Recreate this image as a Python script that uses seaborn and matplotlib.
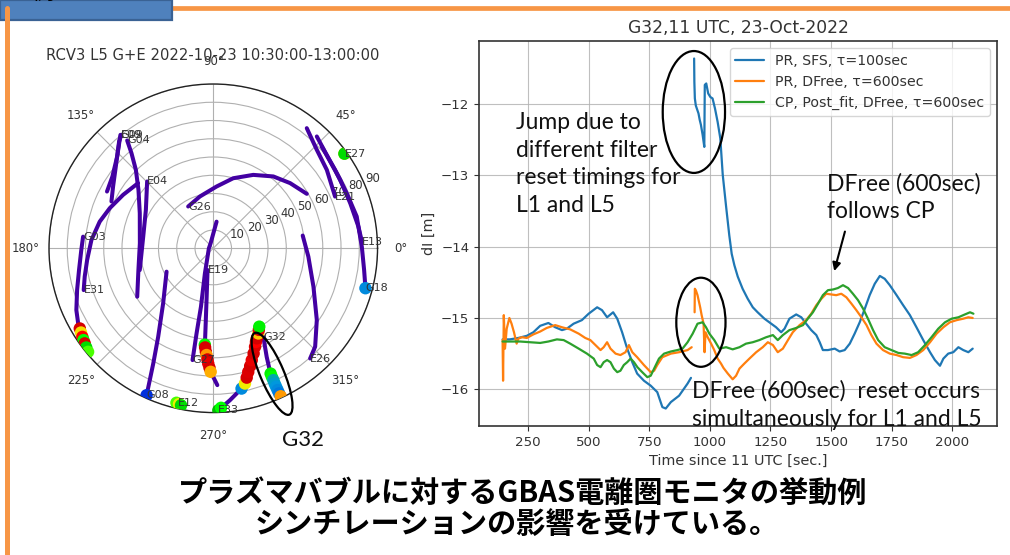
import numpy as np
import pandas as pd
import matplotlib
matplotlib.use("Agg")
import matplotlib.pyplot as plt
import seaborn as sns
from matplotlib.patches import Ellipse, Rectangle
from matplotlib.lines import Line2D

# ---------------- sky plot data (azimuth deg, zenith deg) ----------------
g03_az = [174.9, 180.7, 189.2, 197.0, 204.3, 209.1, 211.0, 214.1, 216.5, 219.6]
g03_zen = [71.6, 72.3, 74.5, 78.0, 82.3, 84.7, 85.3, 86.6, 87.6, 89.0]
e31_az = [197.9, 192.4, 185.3, 176.1, 166.8, 158.8, 149.3, 139.1]
e31_zen = [74.6, 72.1, 69.4, 66.9, 63.9, 60.8, 57.4, 54.5]
g09_az = [129.3, 136.3, 144.6, 151.9]
g09_zen = [80.3, 72.8, 67.8, 66.0]
e09_az = [129.0, 131.4, 140.0, 148.3, 155.3]
e09_zen = [80.0, 78.0, 69.7, 64.5, 61.4]
g04_az = [128.6, 130.7, 134.6, 142.0, 154.5, 176.1, 196.2, 212.5]
g04_zen = [75.6, 68.7, 60.4, 52.0, 44.6, 40.3, 42.7, 49.4]
e04_az = [134.7, 150.3, 170.5, 196.5]
e04_zen = [51.5, 42.5, 38.9, 42.0]
g08_az = [245.6, 242.5, 238.1, 227.7, 206.6]
g08_zen = [88.4, 71.2, 57.1, 40.8, 28.6]
e12_az = [257.0, 258.2]
e12_zen = [87.0, 87.6]
g27_az = [259.5, 258.9, 258.1, 251.6, 180.0, 118.0, 82.9]
g27_zen = [62.3, 47.5, 32.7, 14.5, 2.4, 3.1, 14.7]
e19_az = [255.3, 262.6, 264.4, 265.0, 265.2, 266.4, 267.5, 268.8, 271.7]
e19_zen = [12.3, 28.6, 43.2, 52.3, 54.1, 58.6, 63.2, 67.7, 75.0]
g26_az = [121.0, 104.5, 86.9, 74.1, 61.4, 50.1, 40.3, 30.2]
g26_zen = [26.7, 29.3, 33.9, 39.9, 45.8, 51.3, 55.2, 59.3]
e26_az = [-48.7, -44.0, -34.7, -21.0, -5.0, 8.1]
e26_zen = [80.4, 77.6, 69.0, 58.8, 52.3, 49.5]
g18_az = [-14.7, -8.2, 0.6, 12.5, 22.4, 32.8, 43.2]
g18_zen = [86.2, 83.5, 81.4, 80.5, 79.1, 79.4, 81.5]
e13_az = [2.6, 8.5, 18.2, 28.3, 38.0, 47.2]
e13_zen = [81.5, 80.4, 79.0, 79.0, 80.1, 83.5]
e21_az = [23.0, 34.6, 43.6, 52.1]
e21_zen = [72.5, 75.6, 78.3, 83.4]
e27_az = [35.8]
e27_zen = [88.6]
e33_az = [271.8, 276.3, 281.4, 283.2, 285.8, 289.0, 293.0, 297.9, 300.4]
e33_zen = [88.8, 83.7, 78.4, 76.1, 70.4, 64.8, 58.6, 52.8, 49.8]
g32_az = [299.5, 296.2, 295.0, 294.6, 294.5, 294.4, 294.4, 294.5]
g32_zen = [55.7, 66.3, 72.7, 75.5, 79.4, 83.3, 87.3, 89.1]

# high-dI points (azimuth, zenith, normalised dI)
hl_az = [211.0, 212.5, 214.1, 215.3, 216.5, 218.0, 219.6,
         245.6,
         256.6, 257.6, 258.4,
         265.0, 265.3, 265.9, 266.4, 267.0, 267.5, 268.2, 268.8,
         271.8, 272.8, 281.4, 283.2, 284.5, 285.8, 287.4, 289.0, 291.0, 293.0,
         294.5, 295.8, 297.9, 299.2, 300.4,
         294.6, 294.5, 294.5, 294.4, 294.4, 294.4, 294.4, 294.5,
         -14.7, 35.8, 35.8]
hl_zen = [85.3, 85.9, 86.6, 87.1, 87.6, 88.3, 89.0,
          88.4,
          87.0, 87.4, 87.8,
          53.0, 54.5, 56.8, 58.6, 61.0, 63.2, 65.5, 67.7,
          88.8, 87.5, 78.4, 76.1, 73.2, 70.4, 67.6, 64.8, 61.7, 58.6,
          56.4, 54.8, 52.8, 51.2, 49.8,
          75.5, 77.5, 79.4, 81.5, 83.3, 85.3, 87.3, 89.1,
          86.2, 88.6, 88.6]
hl_val = [0.92, 0.72, 0.85, 0.60, 0.92, 0.55, 0.62,
          0.22,
          0.62, 0.70, 0.55,
          0.60, 0.92, 0.90, 0.80, 0.92, 0.88, 0.92, 0.78,
          0.50, 0.60, 0.28, 0.70, 0.92, 0.90, 0.92, 0.88, 0.92, 0.90,
          0.85, 0.92, 0.75, 0.90, 0.58,
          0.58, 0.60, 0.35, 0.32, 0.30, 0.28, 0.25, 0.80,
          0.28, 0.75, 0.55]

r_ticks = [10, 20, 30, 40, 50, 60, 70, 80, 90]

# ---------------- time series data ----------------
t_sfs_a = [145, 175, 210, 245, 272, 300, 334, 362, 390, 410, 438, 472, 500, 535, 555, 576, 601, 618,
           638, 659, 680, 700, 728, 756, 783, 804, 818, 839, 873, 908, 922]
v_sfs_a = [-15.30, -15.30, -15.28, -15.25, -15.20, -15.11, -15.07, -15.13, -15.17, -15.15, -15.08,
           -15.03, -14.94, -14.85, -14.89, -14.99, -14.92, -15.01, -15.20, -15.43, -15.62, -15.78,
           -15.88, -15.95, -16.04, -16.25, -16.27, -16.18, -16.09, -15.92, -15.84]
t_sfs_b = [935, 936, 938, 942, 948, 953, 958, 963, 970, 977, 979, 985, 993, 1002, 1011, 1021, 1032,
           1043, 1053, 1067, 1080, 1090, 1101, 1115, 1135, 1156, 1177, 1197, 1225, 1253, 1273, 1294,
           1308, 1328, 1356, 1377, 1397, 1418, 1439, 1453, 1466, 1487, 1515, 1535, 1556, 1577, 1597,
           1618, 1639, 1659, 1680, 1701, 1721, 1742, 1770, 1797, 1825, 1852, 1880, 1908, 1928, 1949,
           1963, 1983, 2004, 2025, 2045, 2066, 2084]
v_sfs_b = [-11.36, -11.69, -11.92, -12.02, -12.08, -12.13, -12.22, -12.29, -12.43, -12.60, -11.73,
           -11.71, -11.85, -11.90, -11.92, -12.06, -12.25, -12.48, -12.99, -13.44, -13.84, -14.10,
           -14.26, -14.42, -14.59, -14.73, -14.85, -14.92, -15.01, -15.08, -15.13, -15.20, -15.15,
           -15.01, -14.95, -14.99, -15.08, -15.17, -15.24, -15.34, -15.45, -15.45, -15.43, -15.47,
           -15.45, -15.36, -15.22, -15.06, -14.87, -14.68, -14.52, -14.41, -14.45, -14.54, -14.68,
           -14.82, -14.96, -15.13, -15.31, -15.48, -15.59, -15.67, -15.57, -15.50, -15.48, -15.41,
           -15.45, -15.48, -15.43]

t_dfree_a = [145, 147, 150, 155, 162, 173, 182, 192, 203, 210, 224, 245, 272, 300, 327, 362, 390, 424,
             459, 486, 507, 528, 549, 562, 576, 590, 611, 631, 652, 666, 680, 700, 728, 756, 770, 783,
             804, 839, 873, 908, 925]
v_dfree_a = [-15.31, -15.88, -14.96, -15.43, -15.15, -15.00, -15.08, -15.20, -15.36, -15.29, -15.27,
             -15.28, -15.23, -15.19, -15.14, -15.10, -15.13, -15.16, -15.22, -15.28, -15.31, -15.38,
             -15.45, -15.41, -15.34, -15.43, -15.50, -15.52, -15.48, -15.38, -15.48, -15.55, -15.66,
             -15.76, -15.74, -15.66, -15.55, -15.50, -15.48, -15.45, -15.41]
t_dfree_b = [937, 938, 942, 949, 960, 966, 974, 978, 982, 991, 1005, 1018, 1032, 1046, 1056, 1074,
             1094, 1108, 1122, 1142, 1163, 1191, 1218, 1239, 1260, 1280, 1301, 1322, 1342, 1370, 1397,
             1418, 1439, 1460, 1480, 1501, 1521, 1542, 1563, 1584, 1604, 1625, 1646, 1666, 1687, 1714,
             1742, 1770, 1797, 1825, 1852, 1880, 1908, 1935, 1963, 1990, 2018, 2045, 2066, 2084]
v_dfree_b = [-14.92, -14.59, -14.61, -14.68, -14.85, -14.96, -15.08, -15.48, -15.20, -15.27, -15.36,
             -15.45, -15.57, -15.64, -15.70, -15.78, -15.86, -15.81, -15.71, -15.64, -15.57, -15.48,
             -15.41, -15.34, -15.38, -15.48, -15.43, -15.31, -15.20, -15.10, -15.03, -14.94, -14.82,
             -14.73, -14.66, -14.67, -14.68, -14.66, -14.71, -14.80, -14.89, -14.99, -15.10, -15.24,
             -15.36, -15.45, -15.50, -15.52, -15.55, -15.56, -15.52, -15.45, -15.34, -15.22, -15.13,
             -15.06, -15.03, -15.01, -14.99, -15.00]

t_cp = [145, 175, 217, 258, 300, 334, 369, 397, 424, 459, 493, 521, 535, 549, 562, 576, 590, 604, 618,
        631, 645, 659, 673, 687, 701, 721, 742, 756, 770, 790, 811, 839, 866, 887, 908, 929, 949, 970,
        984, 998, 1018, 1039, 1067, 1094, 1122, 1149, 1177, 1204, 1232, 1260, 1280, 1301, 1328, 1356,
        1384, 1404, 1425, 1446, 1466, 1487, 1508, 1528, 1549, 1570, 1590, 1611, 1632, 1652, 1673, 1694,
        1721, 1749, 1777, 1804, 1832, 1859, 1887, 1914, 1942, 1970, 1997, 2025, 2052, 2073, 2087]
v_cp = [-15.33, -15.33, -15.33, -15.34, -15.35, -15.33, -15.30, -15.31, -15.36, -15.43, -15.50, -15.57,
        -15.66, -15.69, -15.62, -15.59, -15.62, -15.71, -15.76, -15.74, -15.66, -15.62, -15.57, -15.62,
        -15.69, -15.76, -15.83, -15.81, -15.71, -15.57, -15.50, -15.47, -15.45, -15.43, -15.34, -15.22,
        -15.08, -15.06, -15.13, -15.22, -15.31, -15.43, -15.41, -15.44, -15.41, -15.36, -15.34, -15.31,
        -15.27, -15.24, -15.31, -15.24, -15.17, -15.14, -15.10, -15.01, -14.92, -14.80, -14.68, -14.61,
        -14.60, -14.58, -14.54, -14.58, -14.66, -14.75, -14.87, -15.01, -15.17, -15.31, -15.41, -15.45,
        -15.49, -15.50, -15.52, -15.48, -15.38, -15.27, -15.15, -15.06, -15.01, -14.99, -14.95, -14.92,
        -14.94]

series_names = ["PR, SFS, τ=100sec", "PR, DFree, τ=600sec", "CP, Post_fit, DFree, τ=600sec"]
series_colors = ["#1f77b4", "#ff7f0e", "#2ca02c"]
x_ticks = [250, 500, 750, 1000, 1250, 1500, 1750, 2000]
y_ticks = [-16, -15, -14, -13, -12]

# ---------------- style ----------------
sns.set_theme(style="ticks")
plt.rcParams["font.family"] = ["DejaVu Sans", "Noto Sans CJK JP"]
TXT = "#333333"

fig = plt.figure(figsize=(10.1, 5.55), dpi=100)
fig.patch.set_facecolor("white")

# ---------------- slide decoration ----------------
fig.add_artist(Line2D([5 / 1010, 1.0], [1 - 8 / 555] * 2, transform=fig.transFigure,
                      color="#f79646", lw=3.4, zorder=1))
fig.add_artist(Rectangle((0, 1 - 20 / 555), 172 / 1010, 20 / 555, transform=fig.transFigure,
                         facecolor="#4f81bd", edgecolor="#3a6294", lw=1.6, zorder=2))
fig.text(10 / 1010, 1 - 4 / 555, "の例", fontsize=16, color="black", va="bottom", ha="left",
         family=["Noto Sans CJK JP", "DejaVu Sans"], zorder=3)
fig.add_artist(Line2D([6.5 / 1010] * 2, [1 - 8 / 555, 0.0], transform=fig.transFigure,
                      color="#f79646", lw=3.6, zorder=3))

# ---------------- polar sky plot ----------------
axp = fig.add_axes([0.0485, 0.2566, 0.3253, 0.5921], projection="polar")
tracks = [("G03", g03_az, g03_zen), ("E31", e31_az, e31_zen), ("G09", g09_az, g09_zen),
          ("E09", e09_az, e09_zen), ("G04", g04_az, g04_zen), ("E04", e04_az, e04_zen),
          ("G08", g08_az, g08_zen), ("E12", e12_az, e12_zen), ("G27", g27_az, g27_zen),
          ("E19", e19_az, e19_zen), ("G26", g26_az, g26_zen), ("E26", e26_az, e26_zen),
          ("G18", g18_az, g18_zen), ("E13", e13_az, e13_zen), ("E21", e21_az, e21_zen),
          ("E27", e27_az, e27_zen), ("E33", e33_az, e33_zen), ("G32", g32_az, g32_zen)]
trk = pd.concat([pd.DataFrame({"theta": np.deg2rad(az), "zen": zen, "sat": name})
                 for name, az, zen in tracks if len(az) > 1], ignore_index=True)
cmap = plt.get_cmap("nipy_spectral")
sns.lineplot(data=trk, x="theta", y="zen", units="sat", estimator=None, sort=False,
             color=cmap(0.125), linewidth=2.9, ax=axp)
hl = pd.DataFrame({"theta": np.deg2rad(hl_az), "zen": hl_zen, "val": hl_val})
sns.scatterplot(data=hl, x="theta", y="zen", hue="val", palette="nipy_spectral", hue_norm=(0, 1),
                s=80, linewidth=0, legend=False, ax=axp, zorder=4)
for name, az, zen in tracks:
    axp.text(np.deg2rad(az[0]), zen[0], name, fontsize=8, color=TXT, ha="left", va="center", zorder=5)
axp.set_ylim(0, 90)
axp.set_rticks(r_ticks)
axp.set_xlabel("")
axp.set_ylabel("")
axp.grid(True, color="#b0b0b0", lw=0.8)
axp.tick_params(labelsize=8.4, labelcolor=TXT)
axp.spines["polar"].set_color("#222222")
axp.spines["polar"].set_linewidth(1.0)
fig.text(213 / 1010, 1 - 55 / 555, "RCV3 L5 G+E 2022-10-23 10:30:00-13:00:00", fontsize=10.6,
         color=TXT, ha="center", va="center")
axp.add_patch(Ellipse((0.679, 0.118), width=0.27, height=0.072, angle=-67, transform=axp.transAxes,
                      fill=False, ec="black", lw=1.6, clip_on=False, zorder=6))
fig.text(303 / 1010, 1 - 440 / 555, "G32", fontsize=16, family="Lato", color="#111111",
         ha="center", va="center")

# ---------------- time series ----------------
ax = fig.add_axes([0.4743, 0.2324, 0.5128, 0.6937])
parts = [(series_names[0], "a", t_sfs_a, v_sfs_a), (series_names[0], "b", t_sfs_b, v_sfs_b),
         (series_names[1], "a", t_dfree_a, v_dfree_a), (series_names[1], "b", t_dfree_b, v_dfree_b),
         (series_names[2], "a", t_cp, v_cp)]
df = pd.concat([pd.DataFrame({"time": t, "dI": v, "series": s, "seg": s + seg})
                for s, seg, t, v in parts], ignore_index=True)
sns.lineplot(data=df, x="time", y="dI", hue="series", hue_order=series_names, units="seg",
             estimator=None, sort=False, palette=series_colors, linewidth=1.6, legend=False, ax=ax)
ax.set_xticks(x_ticks)
ax.set_yticks(y_ticks)
ax.grid(True, color="#b0b0b0", lw=0.8, alpha=0.8)
ax.tick_params(labelsize=9.6, labelcolor=TXT, color=TXT, length=3.5, width=0.8)
for sp in ax.spines.values():
    sp.set_color("#333333")
    sp.set_linewidth(1.2)
ax.set_title("G32,11 UTC, 23-Oct-2022", fontsize=12.3, color=TXT, pad=6)
ax.set_xlabel("Time since 11 UTC [sec.]", fontsize=10.4, color=TXT)
ax.set_ylabel("dI [m]", fontsize=10.4, color=TXT)
handles = [Line2D([], [], color=c, lw=1.6) for c in series_colors]
leg = ax.legend(handles, series_names, loc="upper right", fontsize=10.2, frameon=True,
                framealpha=0.8, edgecolor="#cccccc", fancybox=True)
for t in leg.get_texts():
    t.set_color(TXT)

ann = dict(family="Lato", fontsize=16.5, color="#111111", ha="left", va="center", linespacing=1.4)
ax.text(200, -12.84, "Jump due to\ndifferent filter\nreset timings for\nL1 and L5", **ann)
ax.text(1481, -13.31, "DFree (600sec)\nfollows CP", **ann)
ax.text(926, -16.22, "DFree (600sec)  reset occurs\nsimultaneously for L1 and L5", **ann)
ax.add_patch(Ellipse((934, -12.11), 257, 1.71, fill=False, ec="black", lw=1.6, zorder=6))
ax.add_patch(Ellipse((963, -15.06), 203, 1.25, fill=False, ec="black", lw=1.6, zorder=6))
ax.annotate("", xy=(1510, -14.38), xytext=(1560, -13.75),
            arrowprops=dict(arrowstyle="-|>", color="black", lw=1.5, mutation_scale=12))

# ---------------- caption ----------------
jp = ["Noto Sans CJK JP", "DejaVu Sans"]
fig.text(0.517, 1 - 493 / 555, "プラズマバブルに対するGBAS電離圏モニタの挙動例", fontsize=21,
         fontweight="bold", family=jp, ha="center", va="center", color="black")
fig.text(0.512, 1 - 524 / 555, "シンチレーションの影響を受けている。", fontsize=21,
         fontweight="bold", family=jp, ha="center", va="center", color="black")

fig.savefig("out.png", dpi=100)
